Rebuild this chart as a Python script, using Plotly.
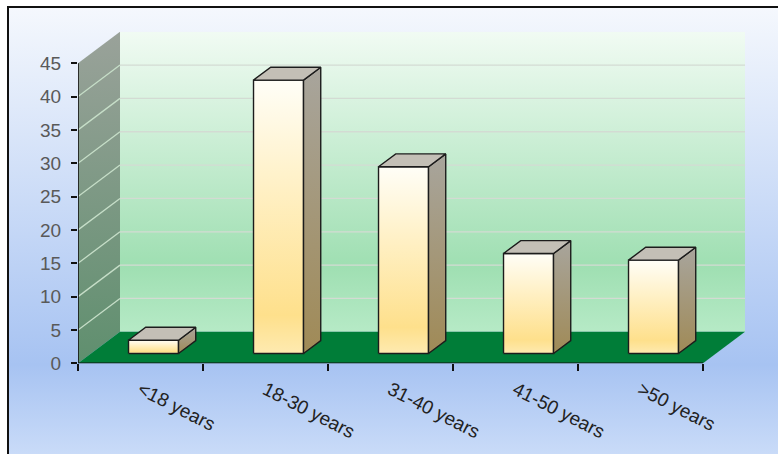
import plotly.graph_objects as go

# Age distribution (percent of respondents)
categories = ["<18 years", "18-30 years", "31-40 years", "41-50 years", ">50 years"]
values = [2, 41, 28, 15, 14]
y_ticks = [0, 5, 10, 15, 20, 25, 30, 35, 40, 45]

W, H = 778, 454
Y_MAX = 45
# oblique depth of the 3D box: x offset in category units, y offset in value units
DX, DY = 0.336, 4.72
# bar footprint: half width (category units) and front/back depth fractions
BAR_HALF = 0.2
D_FRONT, D_BACK = 0.31, 0.72

n = len(categories)
x_lo, x_hi = -0.5, n - 0.5
centers = list(range(n))
bounds = [i - 0.5 for i in range(n + 1)]

EDGE = "#1c1c1c"

fig = go.Figure()


def poly(xs, ys, fill=None, grad=None, line_color=EDGE, line_width=1.4, axes=("x2", "y2")):
    kw = dict(
        x=xs + [xs[0]], y=ys + [ys[0]], mode="lines",
        fill="toself", hoverinfo="skip", showlegend=False,
        xaxis=axes[0], yaxis=axes[1], cliponaxis=False,
        line=dict(color=line_color, width=line_width),
    )
    if grad is not None:
        kw["fillgradient"] = grad
        kw["fillcolor"] = "rgba(0,0,0,0)"
    else:
        kw["fillcolor"] = fill
    fig.add_trace(go.Scatter(**kw))


def vgrad(scale, y0, y1):
    return dict(type="vertical", colorscale=scale, start=y0, stop=y1)


def seg(x0, y0, x1, y1, color, width):
    fig.add_trace(go.Scatter(
        x=[x0, x1], y=[y0, y1], mode="lines", hoverinfo="skip",
        showlegend=False, xaxis="x2", yaxis="y2", cliponaxis=False,
        line=dict(color=color, width=width),
    ))


# chart-area background (pixel coordinates on a full-figure subplot)
poly([8, W, W, 8], [0, 0, H - 7, H - 7],
     grad=vgrad([[0, "#c9dbf8"], [0.2, "#a7c3f2"], [1, "#f5f8fd"]], 0, H - 7),
     line_color="rgba(0,0,0,0)", line_width=0, axes=("x", "y"))

# side wall
poly([x_lo, x_lo + DX, x_lo + DX, x_lo], [0, DY, Y_MAX + DY, Y_MAX],
     grad=vgrad([[0, "#5f8f6e"], [1, "#9aa29a"]], 0, Y_MAX + DY),
     line_color="rgba(0,0,0,0)", line_width=0)
# back wall
poly([x_lo + DX, x_hi + DX, x_hi + DX, x_lo + DX], [DY, DY, Y_MAX + DY, Y_MAX + DY],
     grad=vgrad([[0, "#b6eac6"], [0.22, "#9fdfb2"], [1, "#f1fbf3"]], DY, Y_MAX + DY),
     line_color="rgba(0,0,0,0)", line_width=0)

# gridlines on the back wall and their diagonals on the side wall
for t in y_ticks[1:-1]:
    seg(x_lo + DX, t + DY, x_hi + DX, t + DY, "#d3dbd3", 1.3)
    seg(x_lo, t, x_lo + DX, t + DY, "#c6dec8", 1.3)

# floor
poly([x_lo, x_hi, x_hi + DX, x_lo + DX], [0, 0, DY, DY],
     fill="#007d38", line_color="rgba(0,0,0,0)", line_width=0)

# axis lines
seg(x_lo, 0, x_lo, Y_MAX, "#111111", 1.6)
seg(x_lo, 0, x_hi, 0, "#111111", 1.6)

front_scale = [[0, "#feeab0"], [0.14, "#fee08c"], [0.6, "#fff0c4"], [1, "#fffef7"]]
side_scale = [[0, "#a08a56"], [1, "#a8a59d"]]

for c, v in zip(centers, values):
    xl_f = c - BAR_HALF + D_FRONT * DX
    xr_f = c + BAR_HALF + D_FRONT * DX
    xl_b = c - BAR_HALF + D_BACK * DX
    xr_b = c + BAR_HALF + D_BACK * DX
    yb_f, yb_b = D_FRONT * DY, D_BACK * DY
    yt_f, yt_b = v + yb_f, v + yb_b
    # front face
    poly([xl_f, xr_f, xr_f, xl_f], [yb_f, yb_f, yt_f, yt_f],
         grad=vgrad(front_scale, yb_f, yt_f))
    # right side face
    poly([xr_f, xr_b, xr_b, xr_f], [yb_f, yb_b, yt_b, yt_f],
         grad=vgrad(side_scale, yb_f, yt_b))
    # top face
    poly([xl_f, xr_f, xr_b, xl_b], [yt_f, yt_f, yt_b, yt_b], fill="#c3bfb6")

FONT = "Liberation Sans, Arial, sans-serif"

fig.update_layout(
    width=W, height=H,
    margin=dict(l=0, r=0, t=0, b=0, pad=0),
    paper_bgcolor="white",
    plot_bgcolor="rgba(0,0,0,0)",
    showlegend=False,
    xaxis=dict(domain=[0, 1], range=[0, W], visible=False, fixedrange=True),
    yaxis=dict(domain=[0, 1], range=[0, H], visible=False, fixedrange=True),
    xaxis2=dict(
        domain=[78 / W, 745 / W], range=[x_lo, x_hi + DX], anchor="y2",
        tickmode="array", tickvals=centers, ticktext=categories,
        tickangle=27, ticks="", showgrid=False, zeroline=False, showline=False,
        ticklabelstandoff=11,
        tickfont=dict(family=FONT, size=19, color="#222222"),
        minor=dict(tickmode="array", tickvals=bounds, ticks="outside",
                   ticklen=7, tickwidth=1.5, tickcolor="#111111", showgrid=False),
        automargin=False, fixedrange=True,
    ),
    yaxis2=dict(
        domain=[(H - 363.3) / H, (H - 31.7) / H], range=[0, Y_MAX + DY], anchor="x2",
        tickmode="array", tickvals=y_ticks, ticks="outside", ticklen=6,
        tickwidth=1.5, tickcolor="#111111", showgrid=False, zeroline=False,
        showline=False, ticklabelstandoff=6,
        tickfont=dict(family=FONT, size=19, color="#595959"),
        automargin=False, fixedrange=True,
    ),
    shapes=[dict(type="rect", xref="paper", yref="paper",
                 x0=8 / W, x1=1.05, y0=-0.05, y1=(H - 7) / H,
                 line=dict(color="#111111", width=2), fillcolor="rgba(0,0,0,0)",
                 layer="above")],
)

fig.write_html("out.html")
